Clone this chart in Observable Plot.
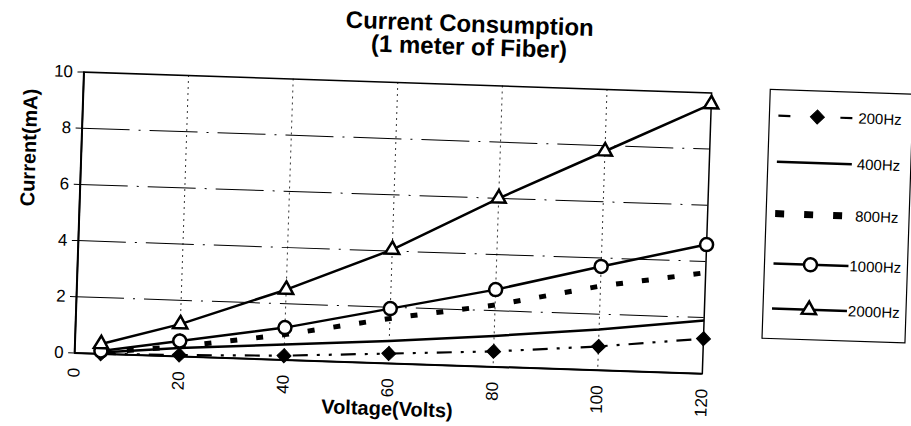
<!DOCTYPE html>
<html><head><meta charset="utf-8">
<script src="https://cdn.jsdelivr.net/npm/d3@7"></script>
<script src="https://cdn.jsdelivr.net/npm/@observablehq/plot@0.6"></script>
<style>
html,body{margin:0;padding:0;background:#fff;overflow:hidden}
#chart{position:relative;width:911px;height:426px;transform:rotate(1.9deg);transform-origin:455px 213px;font-family:"Liberation Sans",Arial,sans-serif}
#chart svg{position:absolute;left:0;top:0}
</style></head><body><div id="chart"></div>
<script>
// ---- data ----
const voltage = [5, 20, 40, 60, 80, 100, 120];
const seriesNames = ["200Hz", "400Hz", "800Hz", "1000Hz", "2000Hz"];
const hz200  = [0.0, 0.05, 0.15, 0.35, 0.55, 0.85, 1.25];
const hz400  = [0.05, 0.3, 0.55, 0.8, 1.1, 1.45, 1.9];
const hz800  = [0.05, 0.35, 0.9, 1.6, 2.2, 3.0, 3.6];
const hz1000 = [0.1, 0.55, 1.15, 1.95, 2.75, 3.7, 4.6];
const hz2000 = [0.35, 1.15, 2.5, 4.05, 6.0, 7.8, 9.6];
const xTicks = [0, 20, 40, 60, 80, 100, 120];
const yTicks = [0, 2, 4, 6, 8, 10];
const titleLines = ["Current Consumption", "(1 meter of Fiber)"];
const xLabel = "Voltage(Volts)";
const yLabel = "Current(mA)";

const values = {"200Hz": hz200, "400Hz": hz400, "800Hz": hz800, "1000Hz": hz1000, "2000Hz": hz2000};
const rows = name => voltage.map((v, i) => ({voltage: v, current: values[name][i]}));

const style = {
  "200Hz":  {dash: "15,9,3,9,3,9", width: 2.2, symbol: "diamond2", fill: "black", r: 6.3, legendDash: "12,50,12,10"},
  "400Hz":  {dash: null, width: 2.5, legendDash: null},
  "800Hz":  {dash: "7,19", width: 5, legendDash: "9,20"},
  "1000Hz": {dash: null, width: 2.5, symbol: "circle", fill: "white", r: 6.5, legendDash: null},
  "2000Hz": {dash: null, width: 2.5, symbol: "triangle", fill: "white", r: 5.3, legendDash: null}
};

const lineMarks = seriesNames.map(n => Plot.line(rows(n), {
  x: "voltage", y: "current", stroke: "black", strokeWidth: style[n].width,
  strokeDasharray: style[n].dash, strokeLinecap: "butt"
}));
const dotMarks = seriesNames.filter(n => style[n].symbol).map(n => Plot.dot(rows(n), {
  x: "voltage", y: "current", symbol: style[n].symbol, r: style[n].r,
  fill: style[n].fill, stroke: "black", strokeWidth: style[n].fill === "white" ? 2.5 : 1
}));

const plot = Plot.plot({
  width: 911, height: 426,
  marginLeft: 79, marginRight: 204, marginTop: 84, marginBottom: 61,
  style: {fontFamily: '"Liberation Sans", Arial, sans-serif', fontSize: "17px", color: "black", background: "white"},
  x: {domain: [0, 120]},
  y: {domain: [0, 10]},
  marks: [
    Plot.gridY(yTicks.slice(1, -1), {stroke: "black", strokeOpacity: 1, strokeWidth: 1, strokeDasharray: "48,9,2,9"}),
    Plot.gridX(xTicks.slice(1, -1), {stroke: "black", strokeOpacity: 0.8, strokeWidth: 1, strokeDasharray: "2,4"}),
    Plot.frame({stroke: "black", strokeWidth: 1.5}),
    Plot.ruleY([0], {stroke: "black", strokeWidth: 2}),
    Plot.ruleX([0], {stroke: "black", strokeWidth: 2}),
    Plot.axisY(yTicks, {tickSize: 6, tickPadding: 5, fontSize: 17, label: null}),
    Plot.axisX(xTicks, {tickSize: 0, tickPadding: 15, tickRotate: -90, fontSize: 17, label: null}),
    ...lineMarks,
    ...dotMarks,
    Plot.text([titleLines[0]], {frameAnchor: "top", dx: 70, dy: -60.7, fontSize: 24, fontWeight: "bold", lineAnchor: "middle"}),
    Plot.text([titleLines[1]], {frameAnchor: "top", dx: 70, dy: -37.7, fontSize: 24, fontWeight: "bold", lineAnchor: "middle"}),
    Plot.text([xLabel], {frameAnchor: "bottom", dy: 45.6, fontSize: 20, fontWeight: "bold", lineAnchor: "middle"}),
    Plot.text([yLabel], {frameAnchor: "left", dx: -52, dy: -4.5, rotate: -90, fontSize: 20, fontWeight: "bold", lineAnchor: "middle"})
  ]
});
const chart = document.getElementById("chart");
chart.appendChild(plot);

// ---- legend ----
const lg = d3.select(chart).append("svg")
  .attr("width", 911).attr("height", 426)
  .style("pointer-events", "none");
lg.append("rect").attr("x", 766).attr("y", 79).attr("width", 143).attr("height", 249)
  .attr("fill", "white").attr("stroke", "black").attr("stroke-width", 1.2);
const rowY = [105, 151, 203, 253, 298];
const symbolType = {diamond2: d3.symbolDiamond2, circle: d3.symbolCircle, triangle: d3.symbolTriangle};
seriesNames.forEach((n, i) => {
  const s = style[n];
  const g = lg.append("g").attr("transform", `translate(0,${rowY[i]})`);
  g.append("line").attr("x1", 775).attr("x2", 850).attr("y1", 0).attr("y2", 0)
    .attr("stroke", "black").attr("stroke-width", n === "800Hz" ? 7 : s.width)
    .attr("stroke-dasharray", s.legendDash);
  if (s.symbol) {
    g.append("path").attr("transform", `translate(${n === "200Hz" ? 814 : 812},0)`)
      .attr("d", d3.symbol(symbolType[s.symbol], Math.PI * s.r * s.r)())
      .attr("fill", s.fill).attr("stroke", "black").attr("stroke-width", s.fill === "white" ? 2.5 : 1);
  }
  g.append("text").attr("x", n.length > 5 ? 851 : 855).attr("y", 0).attr("dy", "0.35em")
    .attr("font-size", 15).attr("font-family", '"Liberation Sans", Arial, sans-serif').text(n);
});
</script></body></html>
